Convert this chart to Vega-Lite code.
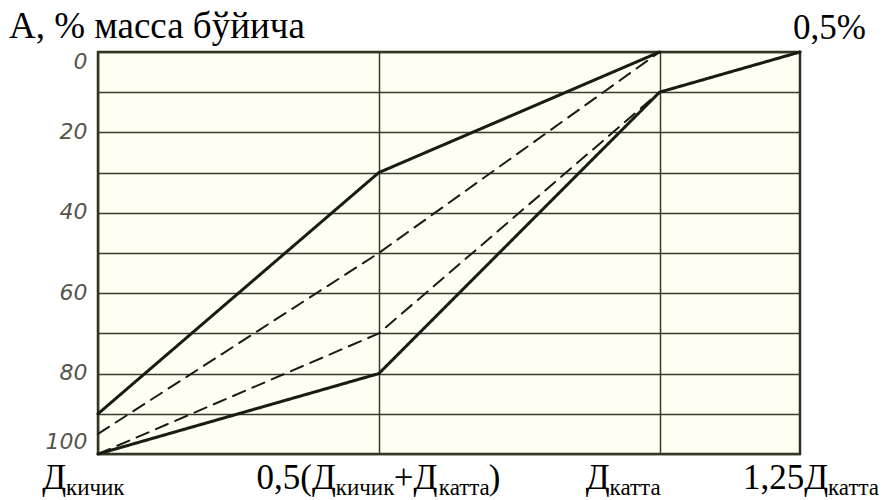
{
  "$schema": "https://vega.github.io/schema/vega-lite/v6.json",
  "width": 702,
  "height": 402,
  "autosize": {"type": "none"},
  "padding": {"left": 98, "top": 52, "right": 84, "bottom": 46},
  "background": "#ffffff",
  "config": {
    "view": {"fill": "#fffef3", "stroke": "#2e2e1e", "strokeWidth": 2.5},
    "text": {"font": "Liberation Serif", "color": "#000000"}
  },
  "layer": [
    {
      "data": {
        "values": [
          {"series": "upper", "kind": "solid", "x": 0, "y": 90},
          {"series": "upper", "kind": "solid", "x": 0.5, "y": 30},
          {"series": "upper", "kind": "solid", "x": 1, "y": 0},
          {"series": "lower", "kind": "solid", "x": 0, "y": 100},
          {"series": "lower", "kind": "solid", "x": 0.5, "y": 80},
          {"series": "lower", "kind": "solid", "x": 1, "y": 10},
          {"series": "lower", "kind": "solid", "x": 1.25, "y": 0},
          {"series": "dash1", "kind": "dashed", "x": 0, "y": 95},
          {"series": "dash1", "kind": "dashed", "x": 0.5, "y": 50},
          {"series": "dash1", "kind": "dashed", "x": 1, "y": 0},
          {"series": "dash2", "kind": "dashed", "x": 0, "y": 100},
          {"series": "dash2", "kind": "dashed", "x": 0.5, "y": 70},
          {"series": "dash2", "kind": "dashed", "x": 1, "y": 10}
        ]
      },
      "mark": {"type": "line", "strokeCap": "round", "strokeJoin": "round"},
      "encoding": {
        "x": {
          "field": "x", "type": "quantitative",
          "scale": {"domain": [0, 1.25], "nice": false, "zero": false},
          "axis": {"values": [0, 0.5, 1], "labels": false, "ticks": false, "domain": false, "title": null,
                   "grid": true, "gridColor": "#3a3a28", "gridWidth": 1.5, "gridOpacity": 1}
        },
        "y": {
          "field": "y", "type": "quantitative",
          "scale": {"domain": [0, 100], "reverse": true, "nice": false},
          "axis": {"values": [0, 10, 20, 30, 40, 50, 60, 70, 80, 90, 100],
                   "labelExpr": "datum.value % 20 === 0 ? datum.label : ''",
                   "ticks": false, "domain": false, "title": null,
                   "grid": true, "gridColor": "#3a3a28", "gridWidth": 1.5, "gridOpacity": 1,
                   "labelFont": "DejaVu Sans", "labelFontStyle": "italic", "labelFontSize": 22,
                   "labelColor": "#55554a", "labelPadding": 11, "labelOffset": -1,
                   "labelFlush": true}
        },
        "detail": {"field": "series"},
        "order": {"field": "x"},
        "strokeDash": {"field": "kind", "type": "nominal", "scale": {"domain": ["solid", "dashed"], "range": [[1, 0], [13, 8]]}, "legend": null},
        "strokeWidth": {"field": "kind", "type": "nominal", "scale": {"domain": ["solid", "dashed"], "range": [3, 2]}, "legend": null},
        "color": {"value": "#1b1b16"}
      }
    },
    {
      "data": {"values": [{"pos": 0, "t": "А, %  масса бўйича"}]},
      "mark": {"type": "text", "align": "left", "baseline": "alphabetic", "fontSize": 37, "dx": -89, "dy": -14},
      "encoding": {"x": {"field": "pos", "type": "quantitative"}, "y": {"datum": 0}, "text": {"field": "t"}}
    },
    {
      "data": {"values": [{"pos": 1.25, "t": "0,5%"}]},
      "mark": {"type": "text", "align": "left", "baseline": "alphabetic", "fontSize": 35, "dx": -7, "dy": -13},
      "encoding": {"x": {"field": "pos", "type": "quantitative"}, "y": {"datum": 0}, "text": {"field": "t"}}
    },
    {
      "data": {"values": [{"pos": 0, "t": "Д"}]},
      "mark": {"type": "text", "align": "right", "baseline": "alphabetic", "fontSize": 35, "dx": -32, "dy": 35},
      "encoding": {"x": {"field": "pos", "type": "quantitative"}, "y": {"datum": 100}, "text": {"field": "t"}}
    },
    {
      "data": {"values": [{"pos": 0, "t": "кичик"}]},
      "mark": {"type": "text", "align": "left", "baseline": "alphabetic", "fontSize": 23, "dx": -32, "dy": 41},
      "encoding": {"x": {"field": "pos", "type": "quantitative"}, "y": {"datum": 100}, "text": {"field": "t"}}
    },
    {
      "data": {"values": [{"pos": 0.5, "t": "0,5(Д"}]},
      "mark": {"type": "text", "align": "right", "baseline": "alphabetic", "fontSize": 35, "dx": -43, "dy": 35},
      "encoding": {"x": {"field": "pos", "type": "quantitative"}, "y": {"datum": 100}, "text": {"field": "t"}}
    },
    {
      "data": {"values": [{"pos": 0.5, "t": "кичик"}]},
      "mark": {"type": "text", "align": "left", "baseline": "alphabetic", "fontSize": 23, "dx": -43, "dy": 41},
      "encoding": {"x": {"field": "pos", "type": "quantitative"}, "y": {"datum": 100}, "text": {"field": "t"}}
    },
    {
      "data": {"values": [{"pos": 0.5, "t": "+Д"}]},
      "mark": {"type": "text", "align": "left", "baseline": "alphabetic", "fontSize": 35, "dx": 15, "dy": 35},
      "encoding": {"x": {"field": "pos", "type": "quantitative"}, "y": {"datum": 100}, "text": {"field": "t"}}
    },
    {
      "data": {"values": [{"pos": 0.5, "t": "катта"}]},
      "mark": {"type": "text", "align": "left", "baseline": "alphabetic", "fontSize": 23, "dx": 60, "dy": 41},
      "encoding": {"x": {"field": "pos", "type": "quantitative"}, "y": {"datum": 100}, "text": {"field": "t"}}
    },
    {
      "data": {"values": [{"pos": 0.5, "t": ")"}]},
      "mark": {"type": "text", "align": "left", "baseline": "alphabetic", "fontSize": 35, "dx": 110, "dy": 35},
      "encoding": {"x": {"field": "pos", "type": "quantitative"}, "y": {"datum": 100}, "text": {"field": "t"}}
    },
    {
      "data": {"values": [{"pos": 1, "t": "Д"}]},
      "mark": {"type": "text", "align": "right", "baseline": "alphabetic", "fontSize": 35, "dx": -50, "dy": 35},
      "encoding": {"x": {"field": "pos", "type": "quantitative"}, "y": {"datum": 100}, "text": {"field": "t"}}
    },
    {
      "data": {"values": [{"pos": 1, "t": "катта"}]},
      "mark": {"type": "text", "align": "left", "baseline": "alphabetic", "fontSize": 23, "dx": -50, "dy": 41},
      "encoding": {"x": {"field": "pos", "type": "quantitative"}, "y": {"datum": 100}, "text": {"field": "t"}}
    },
    {
      "data": {"values": [{"pos": 1.25, "t": "1,25Д"}]},
      "mark": {"type": "text", "align": "right", "baseline": "alphabetic", "fontSize": 35, "dx": 28, "dy": 35},
      "encoding": {"x": {"field": "pos", "type": "quantitative"}, "y": {"datum": 100}, "text": {"field": "t"}}
    },
    {
      "data": {"values": [{"pos": 1.25, "t": "катта"}]},
      "mark": {"type": "text", "align": "left", "baseline": "alphabetic", "fontSize": 23, "dx": 28, "dy": 41},
      "encoding": {"x": {"field": "pos", "type": "quantitative"}, "y": {"datum": 100}, "text": {"field": "t"}}
    }
  ]
}
